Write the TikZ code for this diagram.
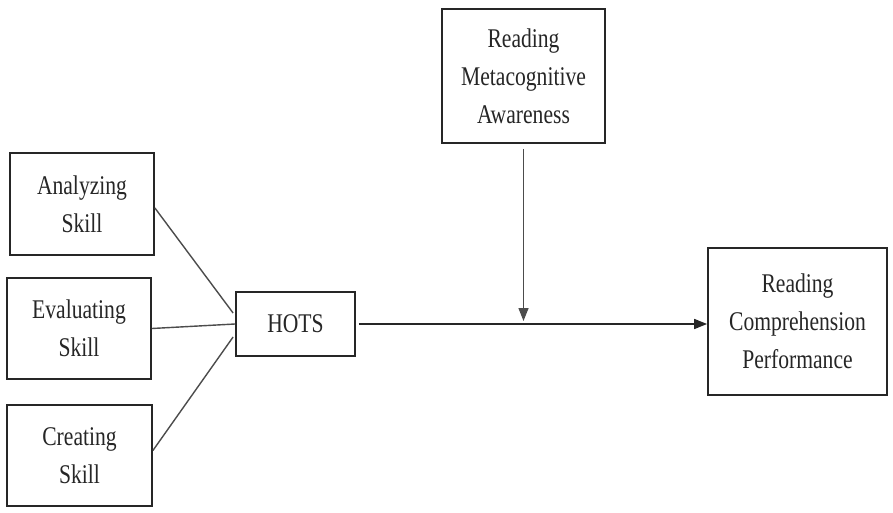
\documentclass[tikz,border=0pt]{standalone}
\usepackage{fontspec}
\setmainfont{Liberation Serif}[FakeStretch=0.8]
\usetikzlibrary{arrows.meta}
\begin{document}
\begin{tikzpicture}[x=1pt,y=-1pt,
  box/.style={draw=black!85,line width=1.8pt,rectangle,align=center,inner sep=0pt,
    font=\fontsize{27}{38}\selectfont,text=black!85},
  link/.style={draw=black!70,line width=1.4pt},
  arr/.style={draw=black!85,line width=1.6pt,-{Triangle[length=13pt,width=10pt]}}]
\path[fill=white] (0,0) rectangle (893,513);
\useasboundingbox (0,0) rectangle (893,513);
\node[box,minimum width=144pt,minimum height=102pt] (a) at (82,204) {Analyzing\\Skill};
\node[box,minimum width=144pt,minimum height=101pt] (e) at (79,328.5) {Evaluating\\Skill};
\node[box,minimum width=145pt,minimum height=101pt] (c) at (79.5,455.5) {Creating\\Skill};
\node[box,minimum width=119pt,minimum height=64pt] (h) at (295.5,324) {HOTS};
\node[box,minimum width=163pt,minimum height=134pt] (m) at (523.5,76) {Reading\\Metacognitive\\Awareness};
\node[box,minimum width=179pt,minimum height=147pt] (r) at (797.5,321.5) {Reading\\Comprehension\\Performance};
\draw[link] ([yshift=-4pt]a.east) -- ([yshift=11pt,xshift=-2pt]h.west);
\draw[link] (e.east) -- (h.west);
\draw[link] ([yshift=5pt]c.east) -- ([yshift=-13pt,xshift=-2pt]h.west);
\draw[arr] ([xshift=3pt]h.east) -- (h.east -| r.west);
\draw[arr,draw=black!70,line width=1.4pt] ([yshift=-5pt]m.south) -- ([yshift=3pt]m.south |- h.east);
\end{tikzpicture}
\end{document}
